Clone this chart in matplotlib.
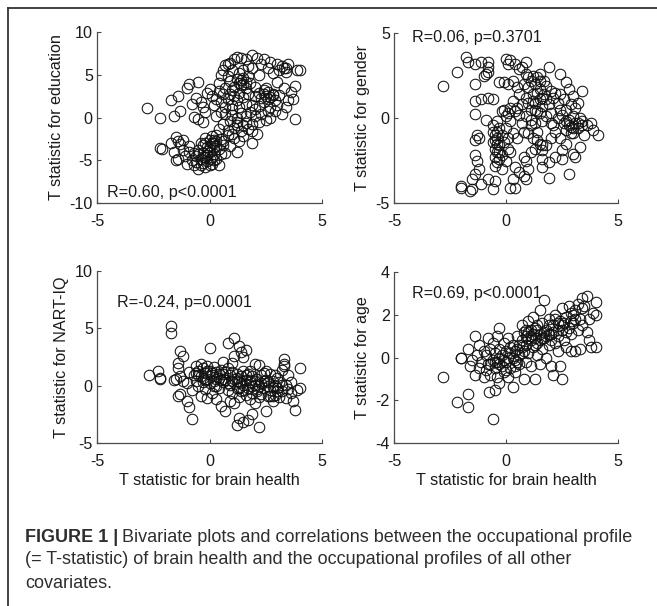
import matplotlib
matplotlib.use("Agg")
import matplotlib.pyplot as plt
from matplotlib.lines import Line2D

plt.rcParams['font.family'] = ['Liberation Sans', 'DejaVu Sans']

# ---------------- data ----------------
edu_x = [-2.8,-2.2,-1.7,-1.6,-1.4,-1.3,-1.0,-0.9,-0.5,-0.6,-0.7,-0.5,-0.3,-0.2,-0.3,-0.8,-0.4,-0.1,0.1,0.0,0.4,0.4,0.5,0.6,0.7,0.8,0.9,1.1,1.2,1.4,1.6,1.9,2.1,2.4,2.7,3.0,3.2,3.4,3.5,3.9,4.0,3.8,3.8,3.5,3.4,3.1,3.3,3.0,2.8,2.6,2.3,2.2,1.9,1.7,1.5,1.3,1.0,0.8,0.9,1.2,1.4,1.5,1.6,1.8,2.0,1.1,1.0,0.7,0.6,0.3,0.2,0.5,0.8,1.1,1.3,1.5,1.7,2.0,2.2,2.4,2.5,2.6,2.8,2.9,3.0,2.7,2.4,2.2,1.9,1.6,1.3,1.0,0.7,0.5,0.3,0.7,1.0,1.2,1.4,1.6,1.8,2.0,2.3,2.5,2.7,2.9,3.2,2.6,2.2,1.9,1.5,1.2,0.9,0.6,0.4,0.8,1.1,1.4,1.7,1.9,2.1,1.9,1.5,1.3,1.1,0.9,0.8,0.5,0.3,0.2,1.2,0.7,0.4,0.4,
         -0.8,-0.7,-0.6,-0.6,-0.5,-0.5,-0.4,-0.4,-0.3,-0.3,-0.2,-0.2,-0.1,-0.1,0.0,0.0,0.0,0.1,0.1,0.2,0.2,0.3,0.3,-0.2,-0.4,0.1,0.5,0.6,-0.7,-0.9,-0.3,0.0,0.2,-0.1,
         -2.2,-2.1,-1.6,-1.5,-1.4,-1.3,-1.2,-1.4,-1.5,-1.1,-1.0,-1.2,-0.9,-1.7,
         1.4,1.5,1.6,1.3,1.7,2.4,2.6,2.7,2.8,2.5,2.3,1.2,1.0,0.9,3.3,3.4,3.1,0.0,-0.1,0.1,-0.3,-0.5,0.3,-0.2,0.2,0.6,1.0,1.6,1.2,2.0,3.6,3.7]
edu_y = [1.1,-0.1,2.0,0.2,2.5,0.8,3.5,3.9,4.1,2.3,0.1,-0.2,-0.5,0.6,1.2,1.6,1.8,2.9,2.5,3.3,3.1,4.0,5.0,5.5,6.1,6.3,6.4,6.8,7.1,7.0,6.8,7.3,7.0,6.8,6.5,6.3,6.0,5.8,6.2,5.5,5.6,3.7,-0.2,2.0,1.2,2.6,3.5,4.2,5.2,5.8,6.2,5.0,5.8,6.0,5.6,5.2,5.5,4.9,4.3,4.5,4.4,3.9,4.2,4.0,3.6,3.6,3.2,3.5,2.8,2.2,1.5,1.8,2.2,2.5,2.9,2.4,2.7,2.5,2.9,3.2,2.5,2.2,2.8,2.0,1.5,1.2,1.8,1.3,1.5,1.6,1.2,1.5,1.2,0.6,0.2,0.4,0.3,0.0,0.5,0.2,0.7,0.2,0.4,-0.3,-0.1,0.8,0.4,0.8,-0.5,-0.8,-0.9,-0.5,-0.4,-0.8,-1.3,-1.5,-1.2,-1.6,-1.3,-1.6,-1.9,-3.0,-2.2,-2.7,-2.4,-3.3,-2.0,-2.5,-2.0,-3.0,-4.0,-4.1,-3.7,-5.5,
         -5.0,-5.6,-4.5,-5.2,-6.0,-3.8,-4.9,-5.5,-4.2,-3.2,-5.8,-4.6,-3.5,-5.1,-2.6,-4.0,-4.8,-3.0,-5.4,-4.3,-3.6,-4.8,-2.8,-2.4,-3.0,-2.2,-4.3,-3.2,-4.2,-4.0,-5.3,-5.6,-5.0,-4.4,
         -3.6,-3.7,-4.0,-2.3,-2.8,-3.1,-2.6,-4.8,-5.0,-4.5,-5.4,-3.8,-3.3,-3.0,
         3.8,4.6,3.4,4.0,4.8,2.7,3.0,2.4,2.6,3.4,2.3,2.0,1.0,2.8,5.8,5.3,5.5,-3.3,-3.9,-4.6,-4.6,-4.3,-3.3,-3.0,-2.6,-2.7,-1.9,-0.6,-0.9,1.0,3.0,2.2]

gen_x = [-2.8,-2.2,-1.8,-1.7,-1.4,-1.4,-1.4,-1.1,-1.0,-0.8,-0.8,-0.8,-0.9,-1.4,-1.1,-0.8,-0.6,-0.9,-1.3,-1.4,-1.2,-1.4,-1.3,-1.2,-1.4,-1.5,-2.0,-2.0,-1.6,-1.5,-1.1,-0.8,-0.6,-0.5,0.2,0.4,0.3,
         -0.6,-0.5,-0.6,-0.4,-0.5,-0.4,-0.3,-0.3,-0.5,-0.4,-0.2,-0.2,-0.1,-0.3,-0.6,-0.2,0.0,0.1,0.0,0.1,-0.4,-0.2,0.0,-0.1,0.1,0.2,0.2,0.3,0.5,0.2,0.4,0.6,0.8,0.9,1.0,0.9,0.8,-0.3,-0.1,0.1,0.3,0.0,0.1,0.2,0.4,0.6,0.7,0.9,0.9,0.5,0.6,0.8,0.3,0.5,0.7,0.9,1.0,1.1,1.2,1.3,1.4,1.5,1.2,1.0,1.1,1.3,1.4,1.5,1.6,1.7,1.8,2.0,2.1,2.2,1.9,2.0,1.8,1.6,1.3,1.1,0.9,0.7,0.8,1.0,1.2,1.4,1.5,1.3,1.1,1.6,1.6,1.6,1.9,2.0,2.2,2.1,2.3,2.4,2.5,2.6,2.7,2.8,2.9,3.0,3.0,3.1,3.2,3.3,2.9,2.6,2.4,2.3,2.7,3.1,3.4,3.6,3.8,3.9,4.1,3.5,3.4,3.3,3.0,3.1,2.8,2.7,2.5,2.4,2.2,1.9,1.8,1.9,2.4,2.7,2.8,3.4,3.0,3.2,2.5,1.7,1.5,
         -0.5,-0.4,-0.3,-0.5,-0.4,1.2,1.4,1.6,1.3,1.8,1.5,2.8,2.9,3.0,2.7,3.2,1.5,1.4,1.6,0.6,0.4,1.0,2.0,1.1]
gen_y = [1.9,2.7,3.6,3.3,3.2,2.0,0.25,3.3,2.5,3.3,3.0,2.7,2.6,1.0,1.1,1.2,1.1,-0.1,-1.0,-1.3,-1.2,-2.2,-2.5,-3.0,-3.3,-3.6,-4.1,-4.0,-4.3,-4.2,-3.9,-3.6,-4.2,-3.7,-4.1,-4.1,-3.6,
         -0.8,-1.0,-1.4,-1.2,-1.8,-2.0,-1.6,-2.4,-2.8,-2.6,-2.2,-1.0,-1.4,-0.6,-0.4,-3.0,-2.5,-1.8,-0.6,-1.2,-0.2,0.4,0.1,0.5,0.3,0.6,-0.2,-0.9,-1.2,-2.0,-2.9,-3.2,-3.4,-3.6,-3.0,-2.5,-2.3,2.1,2.1,2.0,2.2,3.5,3.2,3.4,3.2,2.9,3.0,3.3,2.6,1.8,1.4,2.0,1.0,0.6,0.8,1.2,1.8,2.2,2.5,2.0,2.4,1.7,1.4,0.9,0.5,0.9,0.4,1.1,0.7,1.4,1.9,1.6,1.2,1.5,0.8,0.3,0.1,-0.2,-0.3,-0.1,0.1,-0.3,-0.8,-0.9,-1.2,-0.8,-1.5,-1.8,-2.0,-1.9,-2.4,-2.9,-3.5,-1.2,-0.8,-0.4,0.0,0.5,0.2,-0.3,-0.7,-0.1,-0.5,0.1,-0.9,-0.3,-0.6,0.0,0.8,1.1,1.4,0.9,0.5,0.6,-0.2,-0.4,-0.3,-0.7,-1.0,-1.0,-0.4,-1.7,-2.1,-2.3,-3.3,-1.5,-1.9,-1.2,-2.3,-2.6,-1.6,3.0,2.6,2.1,1.7,1.6,1.3,0.9,-2.4,2.2,2.6,
         -1.3,-1.5,-2.0,-2.3,-0.8,1.0,1.5,1.2,0.5,1.1,0.3,-0.4,-0.9,-0.6,-0.2,-0.3,2.2,-1.3,-1.6,0.2,0.4,2.4,-0.3,-0.4]

iq_x = [-2.7,-2.3,-2.2,-2.2,-1.7,-1.7,-1.6,-1.5,-1.3,-1.2,-1.4,-1.4,-1.3,-1.2,-1.4,-1.3,-1.0,-0.9,-0.8,-1.0,-0.9,-0.8,-0.7,-0.6,-0.6,-0.5,-0.5,-0.4,-0.4,-0.3,-0.3,-0.2,-0.2,-0.1,-0.1,0.0,0.0,0.0,0.1,0.1,0.2,0.2,0.3,0.3,0.4,0.4,0.5,0.5,0.6,0.6,0.7,0.7,0.8,0.8,0.8,0.9,0.9,1.0,1.0,1.1,1.1,1.1,1.2,1.2,1.3,1.3,1.3,1.4,1.4,1.4,1.5,1.5,1.5,1.6,1.6,1.6,1.7,1.7,1.8,1.8,1.9,1.9,2.0,2.0,2.1,2.1,2.2,2.2,2.3,2.3,2.4,2.4,2.5,2.5,2.6,2.6,2.7,2.7,2.8,2.8,2.9,2.9,3.0,3.0,3.1,3.1,3.2,3.2,3.3,3.3,3.3,3.4,3.4,3.5,3.5,3.6,3.7,3.8,3.9,4.0,4.0,1.3,1.2,1.7,2.2,1.5,1.9,2.9,2.5,1.0,0.6,-0.6,0.3,0.9,1.1,2.0,2.8,3.6,-0.4,-0.1,0.5,1.2,1.8,2.3,
        -0.5,-0.3,-0.1,0.1,0.3,0.4,0.6,0.8,1.0,1.2,1.4,1.6,1.8,2.0,2.2,2.4,2.6,2.8,3.0,3.2,1.3,0.7,0.2,-0.2,1.5,1.9,2.1,2.7]
iq_y = [0.9,1.3,0.6,0.7,5.2,4.6,0.5,0.6,3.0,2.6,2.0,1.5,0.8,0.4,-0.9,-0.7,-1.3,-1.9,-2.9,0.2,1.2,-0.4,0.9,1.7,0.4,1.3,0.0,1.9,0.8,1.5,0.3,-0.3,1.1,1.7,0.6,3.3,1.3,0.2,0.9,-0.6,1.6,0.4,1.2,-1.2,0.7,-0.2,1.4,-1.8,0.3,1.0,-2.2,0.5,3.7,1.5,-0.4,0.9,0.1,1.2,-0.6,4.2,2.6,0.6,-0.2,1.0,3.5,0.3,-1.0,2.9,0.8,-0.5,2.5,0.1,1.3,-0.8,0.5,3.1,1.0,-0.2,0.3,-1.2,0.8,-0.6,1.9,0.1,-0.3,0.6,1.8,-1.0,0.2,-0.7,1.1,-0.2,0.5,-2.2,-0.9,0.0,1.0,-0.4,0.4,-1.3,0.0,-0.8,0.7,-0.2,-1.0,0.3,1.4,-0.5,2.3,1.9,1.7,0.1,-1.1,0.9,-0.3,-0.6,-1.3,-2.1,-0.4,-0.2,1.5,-2.8,-3.4,-3.0,-3.6,-3.2,-2.5,0.9,1.3,2.0,2.1,1.1,0.0,-1.3,-1.5,-1.5,-0.9,0.3,-0.9,-1.1,0.5,0.4,1.3,0.9,
        0.9,0.7,1.3,1.1,0.6,1.0,0.6,0.2,0.4,0.7,0.2,0.9,0.5,0.4,0.0,0.4,0.3,-0.1,-0.5,0.1,-0.2,1.2,0.0,0.5,-0.4,0.0,-0.5,-0.9]

age_x = [-2.8,-2.2,-1.7,-1.7,-2.0,-2.0,-1.4,-1.7,-1.6,-1.5,-1.4,-1.3,-1.2,-1.2,-1.1,-1.0,-1.0,-0.9,-0.9,-0.8,-0.8,-0.75,-0.7,-0.7,-0.6,-0.6,-0.6,-0.5,-0.5,-0.5,-0.4,-0.4,-0.4,-0.3,-0.3,-0.3,-0.2,-0.2,-0.1,-0.1,0.0,0.0,0.1,0.1,0.2,0.2,0.3,0.3,0.4,0.4,0.5,0.5,0.6,0.6,0.7,0.7,0.8,0.8,0.8,0.9,0.9,1.0,1.0,1.0,1.1,1.1,1.2,1.2,1.3,1.3,1.3,1.4,1.4,1.5,1.5,1.5,1.6,1.6,1.7,1.7,1.8,1.8,1.9,1.9,2.0,2.0,2.1,2.1,2.2,2.2,2.3,2.3,2.4,2.4,2.5,2.5,2.5,2.6,2.7,2.7,2.8,2.8,2.9,2.9,3.0,3.0,3.1,3.1,3.2,3.3,3.3,3.4,3.4,3.5,3.6,3.6,3.7,3.7,3.8,3.9,4.0,4.0,4.0,1.4,0.6,1.1,1.8,0.3,-0.1,0.9,2.0,1.2,0.4,2.6,3.2,2.3,1.6,0.7,0.0,-0.3,1.9,2.9,
         0.2,0.5,0.7,0.9,1.1,1.3,1.5,1.7,1.9,2.1,2.3,2.5,2.7,2.9,3.1,-0.3,-0.5,-0.7,0.1,0.4,1.0,1.4,2.2,3.4]
age_y = [-0.9,-2.1,-1.7,-2.3,0.0,0.0,1.0,0.4,-0.4,-0.1,-0.8,0.1,-0.5,0.6,-0.2,0.3,-0.9,-0.6,0.1,0.9,-0.3,-1.6,0.4,-0.8,-2.9,-0.1,0.7,-1.5,-0.5,0.2,1.0,-0.9,-0.2,1.4,0.4,-1.2,-0.4,0.1,0.7,-0.7,0.3,-0.2,-0.9,0.9,-0.5,0.2,-1.4,0.6,-0.1,-0.7,0.4,1.0,-0.3,0.1,0.8,1.5,-1.0,0.3,1.2,0.6,-0.2,1.7,0.9,0.2,1.3,-0.4,0.5,1.9,-1.0,0.9,1.4,0.1,0.7,2.2,1.1,-0.3,1.6,0.4,2.7,0.9,1.3,0.0,1.8,0.6,-0.4,1.1,-0.8,1.5,0.7,2.0,1.0,0.3,-0.4,1.7,-1.0,1.3,2.3,0.8,1.9,0.5,1.4,2.4,0.3,1.1,2.0,1.6,0.3,2.2,1.3,0.4,1.8,2.8,1.5,2.4,2.9,1.2,1.8,0.8,0.5,2.1,2.6,2.0,0.5,1.5,0.6,0.8,1.0,0.0,-0.1,1.0,0.8,1.1,0.3,1.6,2.5,1.3,0.9,0.2,-0.6,-0.3,1.5,1.7,
         0.5,-0.2,0.5,1.3,1.0,0.6,0.8,1.2,1.1,1.2,1.6,1.5,1.2,2.1,1.8,0.0,-0.2,-0.3,0.0,-0.4,1.2,1.3,1.8,2.3]

panels = [
    dict(x=edu_x, y=edu_y, ylabel="T statistic for education", ylim=(-10, 10), yticks=[-10, -5, 0, 5, 10],
         text="R=0.60, p<0.0001", tpos=(-4.55, -8.8), xlabel=False),
    dict(x=gen_x, y=gen_y, ylabel="T statistic for gender", ylim=(-5, 5), yticks=[-5, 0, 5],
         text="R=0.06, p=0.3701", tpos=(-4.2, 4.75), xlabel=False),
    dict(x=iq_x, y=iq_y, ylabel="T statistic for NART-IQ", ylim=(-5, 10), yticks=[-5, 0, 5, 10],
         text="R=-0.24, p=0.0001", tpos=(-4.1, 7.25), xlabel=True),
    dict(x=age_x, y=age_y, ylabel="T statistic for age", ylim=(-4, 4), yticks=[-4, -2, 0, 2, 4],
         text="R=0.69, p<0.0001", tpos=(-4.2, 3.0), xlabel=True),
]
xticks = [-5, 0, 5]

W, H = 657, 606
fig = plt.figure(figsize=(W / 100, H / 100), dpi=100)

def px_axes(l, t, r, b):
    return fig.add_axes([l / W, 1 - b / H, (r - l) / W, (b - t) / H])

rects = [(97, 32, 322, 203), (394, 33, 618, 203), (97, 271, 322, 443), (394, 272, 618, 443)]
axcol = '#4a4a4a'
fs = 11.6
for p, rc in zip(panels, rects):
    ax = px_axes(*rc)
    ax.plot(p["x"], p["y"], linestyle='none', marker='o', markersize=7.6,
            markerfacecolor='none', markeredgecolor='#111111', markeredgewidth=0.75)
    ax.set_xlim(-5, 5)
    ax.set_ylim(*p["ylim"])
    ax.set_xticks(xticks)
    ax.set_yticks(p["yticks"])
    ax.set_xticklabels([str(v) for v in xticks])
    ax.set_yticklabels([str(v) for v in p["yticks"]])
    for s in ['top', 'right']:
        ax.spines[s].set_visible(False)
    for s in ['left', 'bottom']:
        ax.spines[s].set_color(axcol)
        ax.spines[s].set_linewidth(0.9)
    ax.tick_params(direction='in', length=3, width=0.8, color=axcol, labelsize=fs,
                   labelcolor='#1a1a1a')
    ax.tick_params(axis='x', pad=8)
    ax.tick_params(axis='y', pad=3)
    ax.set_ylabel(p["ylabel"], fontsize=fs, color='#1a1a1a', labelpad=4)
    if p["xlabel"]:
        ax.set_xlabel("T statistic for brain health", fontsize=fs, color='#1a1a1a', labelpad=3)
    ax.text(p["tpos"][0], p["tpos"][1], p["text"], fontsize=fs, color='#1a1a1a',
            ha='left', va='center')
    ax.patch.set_alpha(0)

# frame
fig.add_artist(Line2D([8 / W, 8 / W], [0, 1 - 8 / H], color='#333333', lw=1.3, transform=fig.transFigure))
fig.add_artist(Line2D([8 / W, 1], [1 - 8 / H, 1 - 8 / H], color='#333333', lw=1.3, transform=fig.transFigure))

# caption
capcol = '#2e2e2e'
cfs = 13.0
renderer = fig.canvas.get_renderer()
t1 = fig.text(25 / W, 1 - 537 / H, "FIGURE 1 |", fontsize=cfs, fontweight='bold', color=capcol,
              ha='left', va='center')
bb = t1.get_window_extent(renderer)
fig.text((bb.x1 + 4) / W, 1 - 537 / H, "Bivariate plots and correlations between the occupational profile",
         fontsize=cfs, color=capcol, ha='left', va='center')
fig.text(25 / W, 1 - 560 / H, "(= T-statistic) of brain health and the occupational profiles of all other",
         fontsize=cfs, color=capcol, ha='left', va='center')
fig.text(25 / W, 1 - 583 / H, "covariates.", fontsize=cfs, color=capcol, ha='left', va='center')

fig.savefig("out.png", dpi=100)
